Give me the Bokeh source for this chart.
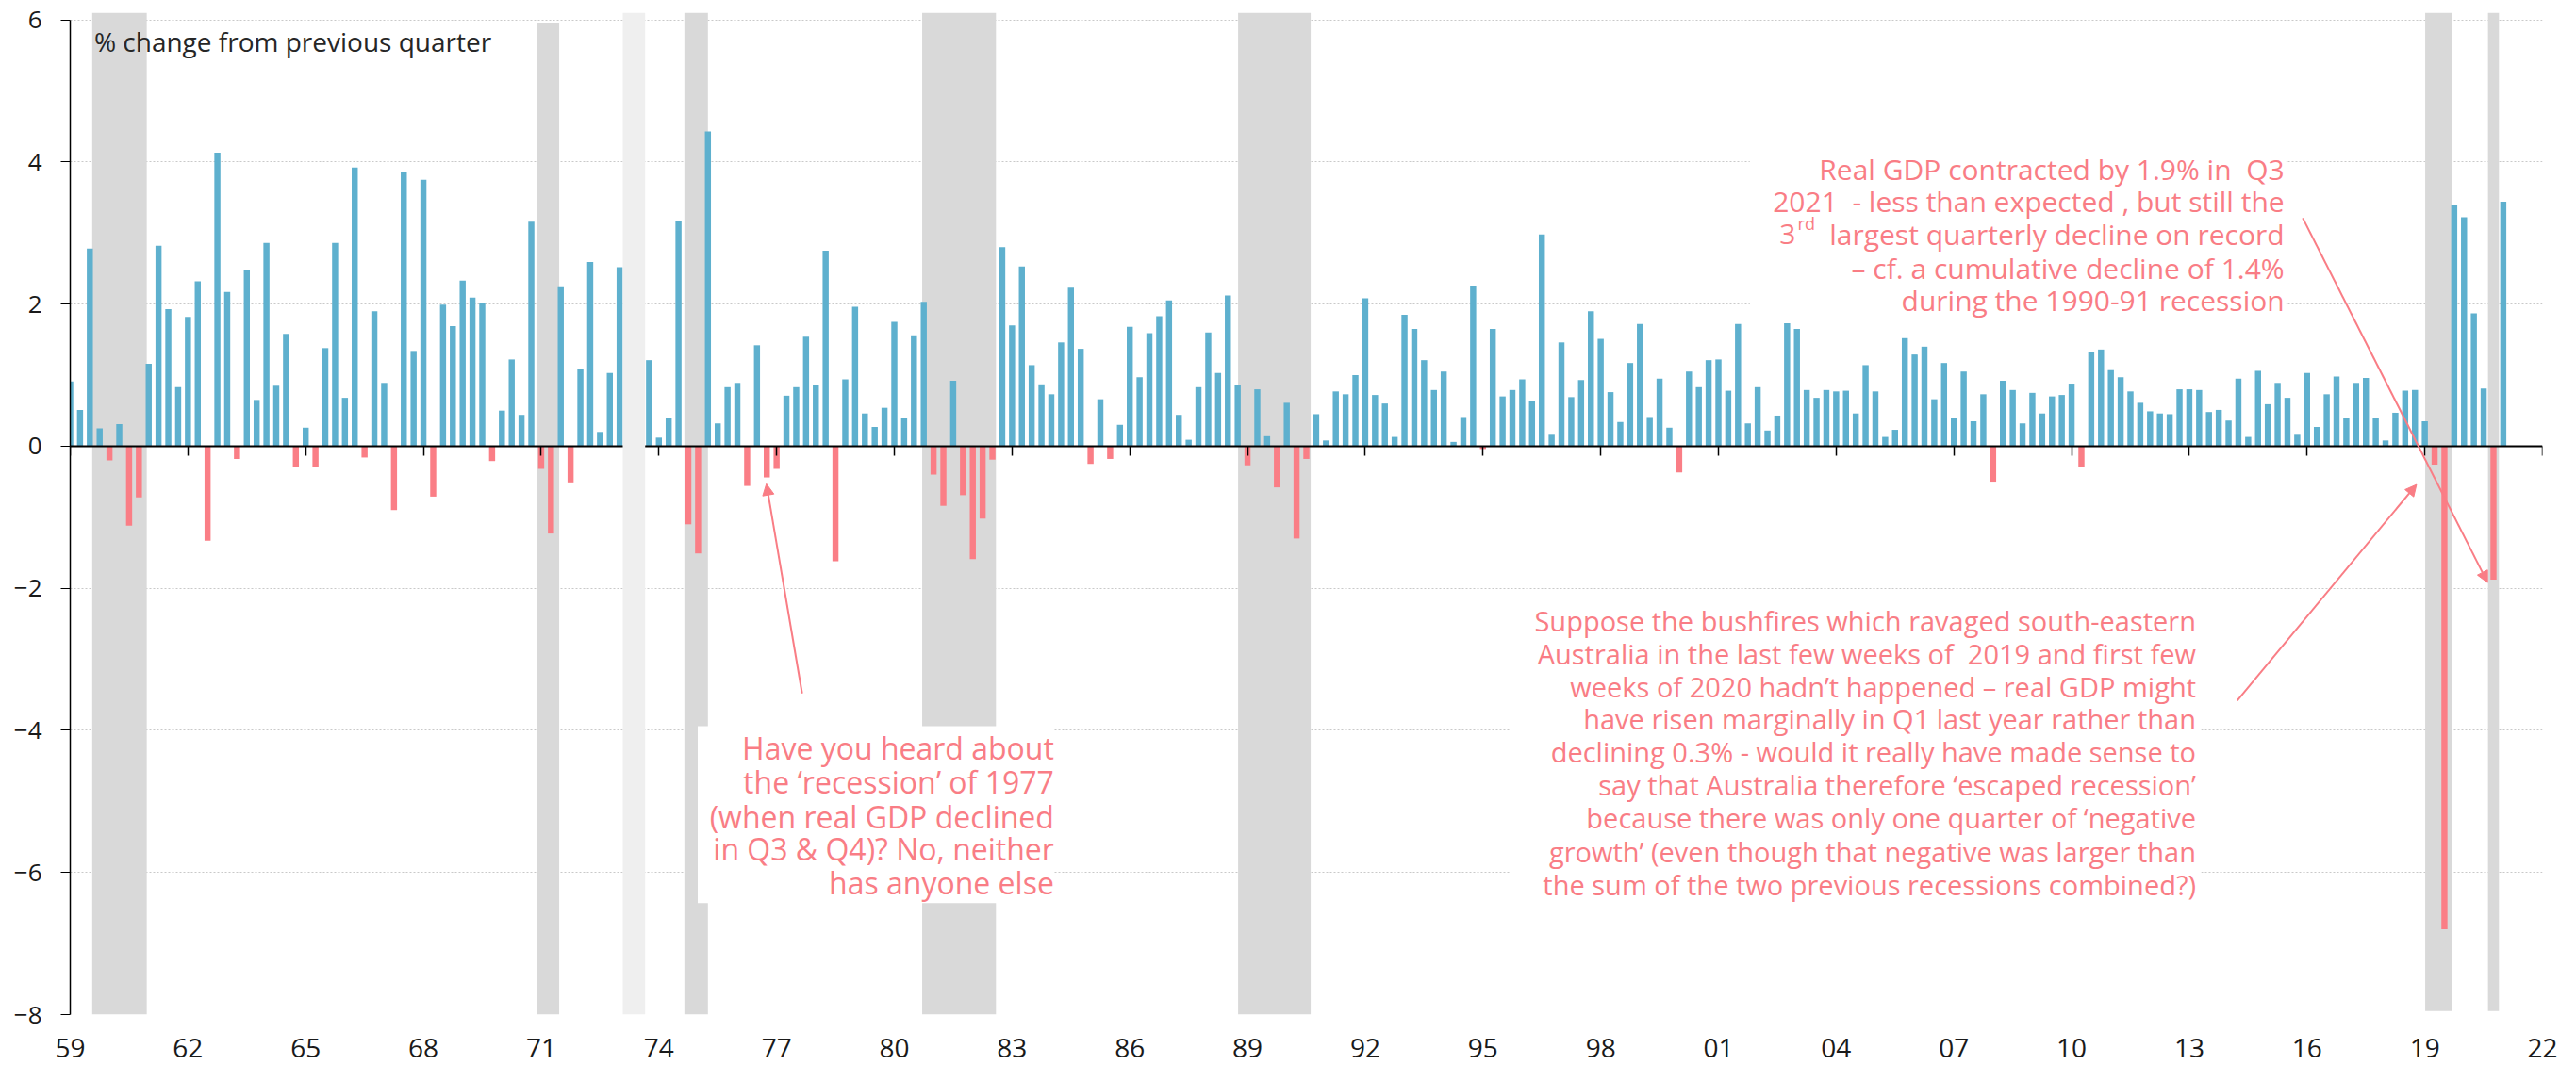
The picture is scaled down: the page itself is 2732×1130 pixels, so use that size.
from bokeh.plotting import figure
from bokeh.models import (Range1d, LinearAxis, FixedTicker, ColumnDataSource,
                          BoxAnnotation, Arrow, NormalHead)
from bokeh.core.properties import value
from bokeh.embed import file_html
from bokeh.resources import INLINE

# ---------------- data ----------------
# axis position of the first bar; one bar per quarter (0.25 axis-years apart)
first_bar_pos = 1959.0
quarter_step = 0.25

# quarterly % change in real GDP, first segment (before the 1973 gap)
growth_early = [
    0.91, 0.51, 2.78, 0.25, -0.20, 0.31, -1.12, -0.72, 1.16, 2.82,
    1.93, 0.83, 1.82, 2.32, -1.33, 4.13, 2.17, -0.18, 2.48, 0.65,
    2.86, 0.85, 1.58, -0.30, 0.26, -0.30, 1.38, 2.86, 0.68, 3.92,
    -0.16, 1.90, 0.89, -0.90, 3.86, 1.34, 3.75, -0.71, 1.99, 1.69,
    2.33, 2.09, 2.02, -0.21, 0.50, 1.22, 0.44, 3.16, -0.32, -1.23,
    2.25, -0.51, 1.08, 2.59, 0.20, 1.03, 2.52,
]
# number of quarters hidden behind the 1973 break
gap_quarters = 2
# second segment (after the break) through to the latest quarter
growth_late = [
    1.21, 0.12, 0.40, 3.17, -1.10, -1.51, 4.43, 0.32, 0.83, 0.89,
    -0.56, 1.42, -0.44, -0.32, 0.71, 0.83, 1.54, 0.86, 2.75, -1.62,
    0.94, 1.96, 0.46, 0.27, 0.54, 1.75, 0.39, 1.56, 2.03, -0.40,
    -0.84, 0.92, -0.69, -1.59, -1.02, -0.19, 2.80, 1.70, 2.53, 1.14,
    0.87, 0.73, 1.46, 2.23, 1.37, -0.25, 0.66, -0.18, 0.30, 1.68,
    0.97, 1.59, 1.83, 2.05, 0.44, 0.09, 0.83, 1.60, 1.03, 2.12,
    0.86, -0.27, 0.80, 0.14, -0.58, 0.61, -1.30, -0.18, 0.45, 0.08,
    0.77, 0.73, 1.00, 2.08, 0.72, 0.60, 0.13, 1.85, 1.65, 1.21,
    0.79, 1.05, 0.06, 0.41, 2.26, -0.04, 1.65, 0.70, 0.79, 0.94,
    0.64, 2.98, 0.16, 1.46, 0.69, 0.93, 1.90, 1.51, 0.76, 0.34,
    1.17, 1.72, 0.41, 0.95, 0.26, -0.37, 1.05, 0.83, 1.21, 1.22,
    0.78, 1.72, 0.32, 0.83, 0.22, 0.43, 1.73, 1.65, 0.79, 0.68,
    0.79, 0.77, 0.78, 0.46, 1.14, 0.77, 0.13, 0.23, 1.52, 1.29,
    1.40, 0.66, 1.17, 0.40, 1.05, 0.35, 0.73, -0.50, 0.92, 0.79,
    0.32, 0.75, 0.46, 0.70, 0.72, 0.88, -0.30, 1.32, 1.36, 1.07,
    0.97, 0.77, 0.61, 0.49, 0.46, 0.45, 0.80, 0.80, 0.79, 0.48,
    0.51, 0.36, 0.95, 0.13, 1.06, 0.59, 0.89, 0.68, 0.16, 1.03,
    0.27, 0.73, 0.98, 0.40, 0.89, 0.96, 0.40, 0.08, 0.47, 0.78,
    0.79, 0.35, -0.26, -6.80, 3.40, 3.22, 1.87, 0.81, -1.88, 3.44,
]

tick_years = list(range(1959, 2023, 3))
tick_labels = ["59", "62", "65", "68", "71", "74", "77", "80", "83", "86", "89",
               "92", "95", "98", "01", "04", "07", "10", "13", "16", "19", "22"]
y_ticks = [-8, -6, -4, -2, 0, 2, 4, 6]

# recession shading (axis-year units)
recession_start = [1959.56, 1970.89, 1974.65, 1980.71, 1988.76, 2019.01, 2020.61]
recession_end = [1960.95, 1971.46, 1975.25, 1982.59, 1990.61, 2019.70, 2020.89]
recession_bottom = [-8.0, -8.0, -8.0, -8.0, -8.0, -7.95, -7.95]
recession_top = [6.1, 5.96, 6.1, 6.1, 6.1, 6.1, 6.1]
break_start, break_end = 1973.08, 1973.65

# ---------------- styling ----------------
BLUE = "#5eb0ce"
RED = "#fa7e86"
PINK_TEXT = "#f97d85"
BAND = "#d9d9d9"
FONT_NAME = "Open Sans"
FONT = value(FONT_NAME)
NBSP = "\u00a0"

xs, tops = [], []
for i, v in enumerate(growth_early):
    xs.append(first_bar_pos + i * quarter_step)
    tops.append(v)
offset = len(growth_early) + gap_quarters
for i, v in enumerate(growth_late):
    xs.append(first_bar_pos + (offset + i) * quarter_step)
    tops.append(v)
colors = [BLUE if v >= 0 else RED for v in tops]
src = ColumnDataSource(dict(x=xs, top=tops, color=colors))

p = figure(width=2732, height=1130,
           x_range=Range1d(1959, 2022), y_range=Range1d(-8.0, 6.1),
           output_backend="svg", toolbar_location=None,
           x_axis_location=None, y_axis_location="left",
           min_border_left=74, min_border_right=36,
           min_border_top=13, min_border_bottom=54)
p.outline_line_color = None
p.background_fill_color = "white"
p.border_fill_color = "white"

# y axis
yt = FixedTicker(ticks=y_ticks)
p.yaxis.ticker = yt
p.yaxis.bounds = (-8, 6)
p.yaxis.axis_line_color = "black"
p.yaxis.axis_line_width = 1.5
p.yaxis.major_tick_out = 10
p.yaxis.major_tick_in = 0
p.yaxis.major_tick_line_color = "black"
p.yaxis.minor_tick_line_color = None
p.yaxis.major_label_standoff = 20
p.yaxis.major_label_text_font = FONT_NAME
p.yaxis.major_label_text_font_size = "26px"
p.yaxis.major_label_text_color = "#1a1a1a"

p.xgrid.visible = False
p.ygrid.ticker = yt
p.ygrid.grid_line_color = "#c9c9c9"
p.ygrid.grid_line_dash = "2 2"
p.ygrid.grid_line_width = 1

# recession bands
p.quad(left=recession_start, right=recession_end, bottom=recession_bottom,
       top=recession_top, fill_color=BAND, line_color=None)

# white boxes behind the notes
p.quad(left=[2001.8, 1974.99, 1995.68], right=[2015.47, 1984.07, 2013.3],
       bottom=[1.82, -6.43, -6.46], top=[4.15, -3.94, -2.22],
       fill_color="white", line_color=None)

# bars
p.vbar(x="x", top="top", bottom=0, width=0.155, fill_color="color",
       line_color=None, source=src)

# zero line with its ticks (no labels of its own)
xt = FixedTicker(ticks=tick_years)
zero_axis = LinearAxis(fixed_location=0, ticker=xt,
                       axis_line_color="black", axis_line_width=2,
                       major_tick_out=10, major_tick_in=0,
                       major_tick_line_color="black", major_tick_line_width=1.5,
                       minor_tick_line_color=None,
                       major_label_overrides={t: "" for t in tick_years},
                       major_label_standoff=0)
p.add_layout(zero_axis, "below")

# year labels along the bottom
label_axis = LinearAxis(ticker=xt,
                        major_label_overrides=dict(zip(tick_years, tick_labels)),
                        axis_line_color=None, major_tick_line_color=None,
                        minor_tick_line_color=None, major_tick_out=0, major_tick_in=0,
                        major_label_standoff=25,
                        major_label_text_font=FONT_NAME,
                        major_label_text_font_size="28px",
                        major_label_text_color="#1a1a1a")
p.add_layout(label_axis, "below")

# break in the series
p.add_layout(BoxAnnotation(left=break_start, right=break_end, bottom=-8.0, top=6.1,
                           fill_color="#efefef", fill_alpha=1.0, line_color=None))

# texts
p.text(x=[1959.61], y=[5.70], text=["% change from previous quarter"],
       text_font=FONT, text_font_size="28px", text_color="#262626",
       text_align="left", text_baseline="alphabetic")

note_top = ["Real GDP contracted by 1.9% in " + NBSP + "Q3",
            "2021 " + NBSP + "- less than expected , but still the",
            "largest quarterly decline on record",
            "\u2013 cf. a cumulative decline of 1.4%",
            "during the 1990-91 recession"]
p.text(x=[2015.42] * 5, y=[3.90, 3.45, 2.98, 2.50, 2.05], text=note_top,
       text_font=FONT, text_font_size="30px", text_color=PINK_TEXT,
       text_align="right", text_baseline="alphabetic")
p.text(x=[2002.97], y=[2.98], text=["3"], text_font=FONT, text_font_size="30px",
       text_color=PINK_TEXT, text_align="right", text_baseline="alphabetic")
p.text(x=[2003.02], y=[3.13], text=["rd"], text_font=FONT, text_font_size="18px",
       text_color=PINK_TEXT, text_align="left", text_baseline="alphabetic")

note_1977 = ["Have you heard about",
             "the \u2018recession\u2019 of 1977",
             "(when real GDP declined",
             "in Q3 & Q4)? No, neither",
             "has anyone else"]
p.text(x=[1984.07] * 5, y=[-4.25, -4.73, -5.21, -5.67, -6.14], text=note_1977,
       text_font=FONT, text_font_size="32px", text_color=PINK_TEXT,
       text_align="right", text_baseline="alphabetic")

note_fires = ["Suppose the bushfires which ravaged south-eastern",
              "Australia in the last few weeks of " + NBSP + "2019 and first few",
              "weeks of 2020 hadn\u2019t happened \u2013 real GDP might",
              "have risen marginally in Q1 last year rather than",
              "declining 0.3% - would it really have made sense to",
              "say that Australia therefore \u2018escaped recession\u2019",
              "because there was only one quarter of \u2018negative",
              "growth\u2019 (even though that negative was larger than",
              "the sum of the two previous recessions combined?)"]
p.text(x=[2013.17] * 9,
       y=[-2.46, -2.92, -3.38, -3.84, -4.30, -4.77, -5.23, -5.70, -6.17],
       text=note_fires, text_font=FONT, text_font_size="29px", text_color=PINK_TEXT,
       text_align="right", text_baseline="alphabetic")

# arrows
for (x0, y0, x1, y1) in [(1977.65, -3.48, 1976.74, -0.53),
                         (2014.22, -3.58, 2018.79, -0.54),
                         (2015.89, 3.21, 2020.60, -1.92)]:
    p.add_layout(Arrow(end=NormalHead(size=12, fill_color=PINK_TEXT,
                                      line_color=PINK_TEXT, line_width=1),
                       x_start=x0, y_start=y0, x_end=x1, y_end=y1,
                       line_color=PINK_TEXT, line_width=2))

open("out.html", "w").write(file_html(p, INLINE))
